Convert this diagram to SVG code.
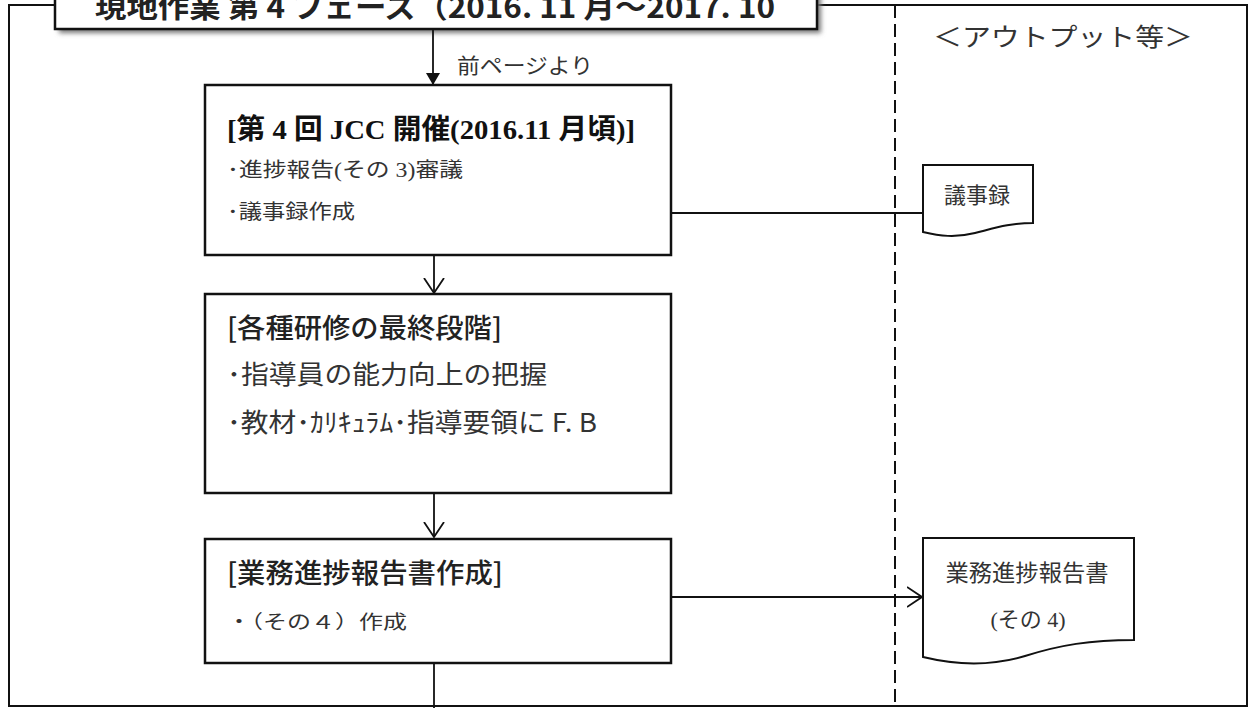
<svg xmlns="http://www.w3.org/2000/svg" width="1250" height="708" viewBox="0 0 1250 708">
<defs>
<style>
.frame{fill:none;stroke:#111;stroke-width:2}
.box{fill:#fff;stroke:#111;stroke-width:2.5}
.doc{fill:#fff;stroke:#111;stroke-width:2}
.ln{fill:none;stroke:#111;stroke-width:1.8}
.jp{font-family:"Liberation Serif","Noto Sans CJK JP",serif;fill:#333}
.gt{font-family:"Noto Sans CJK JP","Liberation Sans",sans-serif;fill:#222}
.bt{font-family:"Liberation Serif","Noto Sans CJK JP",serif;font-weight:bold;fill:#111}
</style>
<marker id="fill" viewBox="0 0 12 14" refX="12" refY="7" markerWidth="12" markerHeight="14" markerUnits="userSpaceOnUse" orient="auto">
<path d="M0,0 L12,7 L0,14 Z" fill="#111"/>
</marker>
<marker id="open" viewBox="0 0 16 22" refX="15" refY="11" markerWidth="16" markerHeight="22" markerUnits="userSpaceOnUse" orient="auto">
<path d="M0,1 L15,11 L0,21" fill="none" stroke="#111" stroke-width="1.8"/>
</marker>
<filter id="sh" x="-5%" y="-50%" width="110%" height="200%">
<feGaussianBlur stdDeviation="2.5"/>
</filter>
</defs>

<g id="frame">
<rect class="frame" x="9" y="5" width="1238" height="701"/>
<line x1="895" y1="5" x2="895" y2="706" stroke="#111" stroke-width="2" stroke-dasharray="13,6"/>
</g>

<g id="title">
<rect x="59" y="-6" width="762" height="39" fill="#777" filter="url(#sh)"/>
<rect class="box" x="55" y="-10" width="762" height="39"/>
<text class="gt" x="95" y="18" font-size="29" font-weight="bold" textLength="680" lengthAdjust="spacingAndGlyphs">現地作業 第 4 フェーズ（2016. 11 月～2017. 10</text>
</g>

<g id="output-header">
<text class="jp" x="933" y="46" font-size="25" textLength="260" lengthAdjust="spacingAndGlyphs">＜アウトプット等＞</text>
</g>

<g id="connectors">
<line class="ln" x1="433" y1="30" x2="433" y2="85" marker-end="url(#fill)"/>
<line class="ln" x1="434" y1="256" x2="434" y2="293" marker-end="url(#open)"/>
<line class="ln" x1="434" y1="494" x2="434" y2="537" marker-end="url(#open)"/>
<line class="ln" x1="672" y1="213" x2="923" y2="213"/>
<line class="ln" x1="672" y1="597" x2="922" y2="597" marker-end="url(#open)"/>
<line class="ln" x1="434" y1="664" x2="434" y2="708"/>
<text class="jp" x="457" y="73" font-size="21" textLength="136" lengthAdjust="spacingAndGlyphs">前ページより</text>
</g>

<g id="box1">
<rect class="box" x="205" y="85" width="466" height="170"/>
<text class="bt" x="227" y="139" font-size="28" textLength="408" lengthAdjust="spacingAndGlyphs">[第 4 回 JCC 開催(2016.11 月頃)]</text>
<text class="jp" x="227" y="177" font-size="20" textLength="236" lengthAdjust="spacingAndGlyphs">･進捗報告(その 3)審議</text>
<text class="jp" x="227" y="219" font-size="20" textLength="128" lengthAdjust="spacingAndGlyphs">･議事録作成</text>
</g>

<g id="box2">
<rect class="box" x="205" y="294" width="466" height="199"/>
<text class="gt" x="227" y="338" font-size="27" font-weight="500" textLength="275" lengthAdjust="spacingAndGlyphs">[各種研修の最終段階]</text>
<text class="gt" x="227" y="384" font-size="26" textLength="320" lengthAdjust="spacingAndGlyphs" style="fill:#333">･指導員の能力向上の把握</text>
<text class="gt" x="227" y="432" font-size="26" textLength="370" lengthAdjust="spacingAndGlyphs" style="fill:#333">･教材･ｶﾘｷｭﾗﾑ･指導要領に F. B</text>
</g>

<g id="box3">
<rect class="box" x="205" y="539" width="466" height="124"/>
<text class="gt" x="227" y="583" font-size="27" font-weight="500" textLength="276" lengthAdjust="spacingAndGlyphs">[業務進捗報告書作成]</text>
<text class="jp" x="227" y="629" font-size="19" textLength="180" lengthAdjust="spacingAndGlyphs">・（その４）作成</text>
</g>

<g id="doc1">
<path class="doc" d="M923,165 H1033 V223 C1010,223 995,228 975,233 C955,238 940,236 923,232 Z"/>
<text class="jp" x="977" y="203" font-size="22" text-anchor="middle">議事録</text>
</g>

<g id="doc2">
<path class="doc" d="M923,538 H1134 V640 C1090,640 1060,645 1025,656 C995,665 960,666 923,657 Z"/>
<text class="jp" x="1027" y="581" font-size="23" text-anchor="middle" textLength="163" lengthAdjust="spacingAndGlyphs">業務進捗報告書</text>
<text class="jp" x="1028" y="627" font-size="22" text-anchor="middle">(その 4)</text>
</g>
</svg>
